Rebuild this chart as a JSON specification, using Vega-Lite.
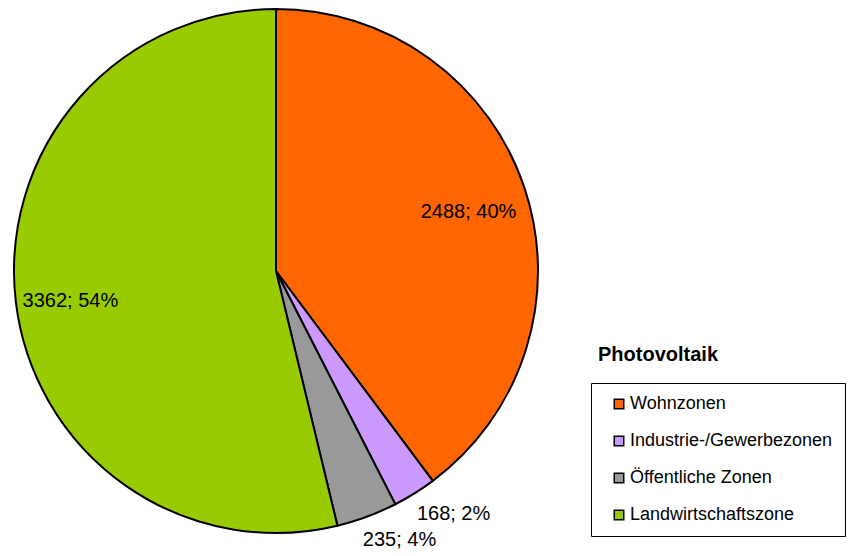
{
  "$schema": "https://vega.github.io/schema/vega-lite/v6.json",
  "width": 550,
  "height": 542,
  "padding": 0,
  "autosize": {"type": "pad"},
  "background": "white",
  "view": {"stroke": null},
  "config": {"font": "Liberation Sans"},
  "title": {
    "text": "Photovoltaik",
    "anchor": "start",
    "frame": "group",
    "orient": "top",
    "offset": 0,
    "baseline": "alphabetic",
    "dx": 597,
    "dy": 381,
    "fontSize": 20,
    "fontWeight": "bold",
    "font": "Liberation Sans",
    "color": "black"
  },
  "data": {
    "values": [
      {"zone": "Wohnzonen", "value": 2488, "label": "2488; 40%", "order": 1, "place": "inside"},
      {"zone": "Industrie-/Gewerbezonen", "value": 168, "label": "168; 2%", "order": 2, "place": "outside"},
      {"zone": "Öffentliche Zonen", "value": 235, "label": "235; 4%", "order": 3, "place": "outside"},
      {"zone": "Landwirtschaftszone", "value": 3362, "label": "3362; 54%", "order": 4, "place": "inside"}
    ]
  },
  "encoding": {
    "theta": {"field": "value", "type": "quantitative", "stack": true},
    "order": {"field": "order", "type": "quantitative"}
  },
  "layer": [
    {
      "mark": {"type": "arc", "outerRadius": 262, "stroke": "black", "strokeWidth": 2},
      "encoding": {
        "color": {
          "field": "zone",
          "type": "nominal",
          "sort": ["Wohnzonen", "Industrie-/Gewerbezonen", "Öffentliche Zonen", "Landwirtschaftszone"],
          "scale": {
            "domain": ["Wohnzonen", "Industrie-/Gewerbezonen", "Öffentliche Zonen", "Landwirtschaftszone"],
            "range": ["#FF6600", "#CC99FF", "#999999", "#99CC00"]
          },
          "legend": {
            "title": null,
            "orient": "none",
            "legendX": 590,
            "legendY": 383,
            "strokeColor": "black",
            "fillColor": "white",
            "padding": 12,
            "symbolType": "square",
            "symbolSize": 90,
            "symbolStrokeColor": "black",
            "symbolStrokeWidth": 1.5,
            "symbolOffset": 7,
            "labelFontSize": 18,
            "labelFont": "Liberation Sans",
            "labelColor": "black",
            "labelOffset": 2,
            "labelLimit": 0,
            "rowPadding": 19
          }
        }
      }
    },
    {
      "mark": {"type": "text", "radius": 205, "fontSize": 20, "font": "Liberation Sans", "color": "black", "align": "center", "baseline": "middle", "dy": 6, "dx": -2},
      "encoding": {"text": {"condition": {"test": "datum.place == 'inside'", "field": "label"}, "value": ""}}
    },
    {
      "mark": {"type": "text", "radius": 298, "fontSize": 20, "font": "Liberation Sans", "color": "black", "align": "center", "baseline": "middle", "dx": 20, "dy": -10},
      "encoding": {"text": {"condition": {"test": "datum.place == 'outside'", "field": "label"}, "value": ""}}
    }
  ]
}
